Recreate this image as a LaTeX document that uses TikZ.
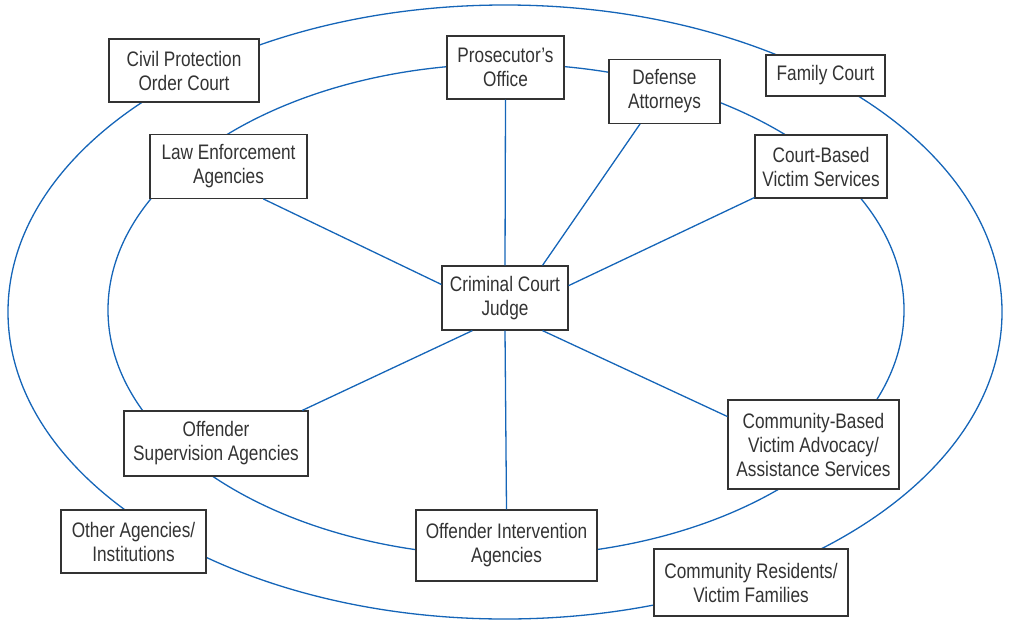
\documentclass[tikz,border=0pt]{standalone}
\usepackage{fontspec}
\setmainfont{Liberation Sans}[FakeStretch=0.82]
\definecolor{ringblue}{HTML}{1565B8}
\definecolor{boxgray}{HTML}{333333}
\begin{document}
\begin{tikzpicture}[x=0.5pt, y=-0.5pt,
    agency/.style={draw=boxgray, line width=0.6pt, fill=white, text=boxgray, align=center,
      inner xsep=2pt, inner ysep=5pt, font={\fontsize{10.5}{12}\selectfont}},
    link/.style={draw=ringblue, line width=0.65pt}]
    \useasboundingbox (0,0) rectangle (1010,621);
    % the two rings
    \draw[link] (505,312) ellipse [x radius=497, y radius=307];
    \draw[link] (506,310) ellipse [x radius=398, y radius=246];
    % judge in the middle
    \node[agency, minimum width=63pt, minimum height=32pt] (judge) at (505,298) {Criminal Court\\Judge};
    % inner ring
    \node[agency, minimum width=58.5pt, minimum height=31.5pt] (prosecutor) at (505.5,67.5) {Prosecutor’s\\Office};
    \node[agency, minimum width=55.5pt, minimum height=30.5pt] (defense) at (664.5,91.5) {Defense\\Attorneys};
    \node[agency, minimum width=78.5pt, minimum height=31.5pt] (lawenf) at (228.5,166.5) {Law Enforcement\\Agencies};
    \node[agency, minimum width=66pt, minimum height=31.5pt] (courtvs) at (821,166.5) {Court-Based\\Victim Services};
    \node[agency, minimum width=92pt, minimum height=32.5pt] (supervision) at (216,443.5) {Offender\\Supervision Agencies};
    \node[agency, minimum width=85.5pt, minimum height=44.5pt] (commvs) at (813.5,444.5) {Community-Based\\Victim Advocacy/\\Assistance Services};
    \node[agency, minimum width=90.5pt, minimum height=35.5pt] (intervention) at (506.5,545.5) {Offender Intervention\\Agencies};
    % outer ring
    \node[agency, minimum width=75pt, minimum height=31.5pt] (civil) at (184,70.5) {Civil Protection\\Order Court};
    \node[agency, minimum width=59.5pt, minimum height=20.5pt] (family) at (825.5,75.5) {Family Court};
    \node[agency, minimum width=72.5pt, minimum height=31.5pt] (other) at (133.5,541.5) {Other Agencies/\\Institutions};
    \node[agency, minimum width=97pt, minimum height=33.5pt] (residents) at (751,582.5) {Community Residents/\\Victim Families};
    % spokes
    \draw[link] (judge.north) -- (prosecutor.south);
    \draw[link] (judge.41.6) -- (defense.-127.6);
    \draw[link] (judge.11.7) -- (courtvs.205.5);
    \draw[link] (judge.168.3) -- (lawenf.-43.2);
    \draw[link] (judge.225) -- (supervision.21.6);
    \draw[link] (judge.south) -- (intervention.north);
    \draw[link] (judge.-41.6) -- (commvs.162.8);
\end{tikzpicture}
\end{document}
